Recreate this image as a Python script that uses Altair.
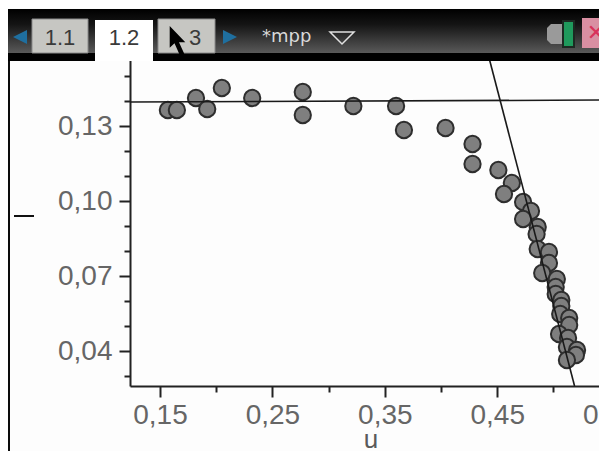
import altair as alt
import pandas as pd

# --- chart data ---
u_values = [0.157, 0.165, 0.182, 0.192, 0.205, 0.232, 0.277, 0.277, 0.322, 0.360, 0.367,
            0.404, 0.428, 0.428, 0.451, 0.463, 0.456, 0.473, 0.480, 0.473, 0.486, 0.485,
            0.486, 0.496, 0.496, 0.490, 0.503, 0.502, 0.502, 0.507, 0.507, 0.506, 0.514,
            0.514, 0.505, 0.513, 0.512, 0.521, 0.520, 0.512]
v_values = [0.1364, 0.1364, 0.1412, 0.1368, 0.1452, 0.1412, 0.1436, 0.1344, 0.1380, 0.1380, 0.1284,
            0.1292, 0.1228, 0.1148, 0.1124, 0.1072, 0.1028, 0.0996, 0.0960, 0.0928, 0.0896, 0.0868,
            0.0808, 0.0796, 0.0752, 0.0712, 0.0688, 0.0656, 0.0628, 0.0604, 0.0580, 0.0548, 0.0532,
            0.0504, 0.0468, 0.0452, 0.0416, 0.0404, 0.0384, 0.0364]
line1_u = [0.1233, 0.5512]
line1_v = [0.1396, 0.1404]
line2_u = [0.4432, 0.5188]
line2_v = [0.1564, 0.0260]

x_ticks = [0.15, 0.20, 0.25, 0.30, 0.35, 0.40, 0.45, 0.50, 0.55]
y_ticks = [0.03, 0.04, 0.05, 0.06, 0.07, 0.08, 0.09, 0.10, 0.11, 0.12, 0.13, 0.14, 0.15]
x_domain = [0.1233, 0.5512]
y_domain = [0.026, 0.1564]

tab_labels = ["1.1", "1.2", "3"]
doc_title = "*mpp"
x_title = "u"

# --- page furniture (screen positions) ---
LEFT, TOP, W, H = 122, 52, 481, 326
one = pd.DataFrame({"a": [0]})


def sx(v):
    return v - 8 - LEFT


def sy(v):
    return v - 8 - TOP


def rect(x0, x1, y0, y1, color, **kw):
    return alt.Chart(one).mark_rect(color=color, **kw).encode(
        x=alt.value(sx(x0)), x2=alt.value(sx(x1)), y=alt.value(sy(y0)), y2=alt.value(sy(y1)))


def text(t, x, y, size, color, font="Liberation Sans", align="center"):
    return alt.Chart(one).mark_text(text=t, fontSize=size, color=color, font=font, align=align,
                                    baseline="middle").encode(x=alt.value(sx(x)), y=alt.value(sy(y)))


def shape(path, x, y, size, fill=None, stroke=None, sw=1):
    kw = {"shape": path, "size": size, "filled": fill is not None, "opacity": 1}
    if fill is not None:
        kw["fill"] = fill
    kw["stroke"] = stroke if stroke is not None else "transparent"
    kw["strokeWidth"] = sw
    return alt.Chart(one).mark_point(**kw).encode(x=alt.value(sx(x)), y=alt.value(sy(y)))


band = alt.Gradient(gradient="linear", x1=0, x2=0, y1=0, y2=1, stops=[
    alt.GradientStop(offset=0, color="#000000"),
    alt.GradientStop(offset=0.35, color="#151515"),
    alt.GradientStop(offset=1, color="#5c5c5c")])

TAB_GREY = "#c6c6c2"
chrome = [
    rect(8, 10, 9, 459, "#0c0c0c"),
    rect(8, 612, 9, 54, band),
    rect(8, 612, 53, 61, "#000000"),
    rect(32, 88, 19, 53, TAB_GREY, stroke="#8a8a8a", strokeWidth=1),
    rect(95, 153, 20, 61, "#ffffff"),
    rect(158, 215, 19, 53, TAB_GREY, stroke="#8a8a8a", strokeWidth=1),
    text(tab_labels[0], 60, 38, 22, "#3a3a3a"),
    text(tab_labels[1], 124, 38, 22, "#3a3a3a"),
    text(tab_labels[2], 195, 38, 22, "#3a3a3a"),
    shape("M1,-1 L1,1 L-1,0 Z", 20, 37, 196, fill="#1f6f9f"),
    shape("M-1,-1 L-1,1 L1,0 Z", 230, 37, 196, fill="#1f6f9f"),
    text(doc_title, 262, 37, 18, "#d8d8d8", font="DejaVu Sans", align="left"),
    shape("M-1,-0.5 L1,-0.5 L0,0.5 Z", 342, 38, 576, stroke="#e0e0e0", sw=1.5),
    shape("M-0.42,-1 L-0.42,0.45 L-0.1,0.15 L0.28,1 L0.55,0.85 L0.2,0.08 L0.62,0.08 Z",
          176, 41, 900, fill="#000000"),
    shape("M-1,-0.6 L-0.6,-1 L0.6,-1 L1,-0.6 L1,0.6 L0.6,1 L-0.6,1 L-1,0.6 Z", 557, 34, 400, fill="#9a9a9a"),
    rect(563, 574, 21, 47, "#1f9a5c", stroke="#1c2a22", strokeWidth=2),
    rect(582, 612, 18, 48, "#d98fa2"),
    text("✕", 596, 33, 22, "#d8325a", font="DejaVu Sans"),
    rect(14, 34, 215, 217, "#111111"),
]

# --- data layers ---
points_df = pd.DataFrame({"u": u_values, "v": v_values})

x_enc = alt.X("u:Q", scale=alt.Scale(domain=x_domain, nice=False, zero=False), axis=alt.Axis(
    values=x_ticks, tickCount=50, title=x_title, titleFontSize=26, titleFont="Liberation Sans", titleFontWeight="normal",
    titleColor="#5a5a5a", titlePadding=-3, labelFont="Liberation Sans", labelFontSize=28, labelColor="#666666",
    labelPadding=4, labelOverlap=False, labelFlush=False, labelBound=False, grid=False, domainColor="#222222", domainWidth=2,
    tickColor="#222222", tickWidth=2,
    tickSize={"expr": "round(datum.value*100)%10==0 ? 6 : 11"},
    labelExpr="round(datum.value*100)%10==0 ? '' : replace(format(datum.value,'.2f'),'.',',')"))
y_enc = alt.Y("v:Q", scale=alt.Scale(domain=y_domain, nice=False, zero=False), axis=alt.Axis(
    values=y_ticks, tickCount=50, title=None, labelFont="Liberation Sans", labelFontSize=28, labelColor="#666666",
    labelPadding=7, labelOverlap=False, labelFlush=False, labelBound=False, grid=False, domainColor="#222222", domainWidth=2,
    tickColor="#222222", tickWidth=2,
    tickSize={"expr": "round(datum.value*100)%3==1 ? 11 : 6"},
    labelExpr="round(datum.value*100)%3==1 ? replace(format(datum.value,'.2f'),'.',',') : ''"))

points = alt.Chart(points_df).mark_point(filled=True, size=265, fill="#7f7f7f", stroke="#2e2e2e",
                                         strokeWidth=2, opacity=1).encode(x=x_enc, y=y_enc)
line1 = alt.Chart(pd.DataFrame({"u": line1_u, "v": line1_v})).mark_line(color="#1a1a1a", strokeWidth=1.6).encode(
    x="u:Q", y="v:Q")
line2 = alt.Chart(pd.DataFrame({"u": line2_u, "v": line2_v})).mark_line(color="#1a1a1a", strokeWidth=1.6).encode(
    x="u:Q", y="v:Q")

chart = alt.layer(points, line1, line2, *chrome).properties(
    width=W, height=H,
    autosize=alt.AutoSizeParams(type="none"),
    padding={"left": LEFT, "top": TOP, "right": -12, "bottom": 65},
    background="#fdfdfd",
).configure_view(stroke=None)

chart.save("out.html", embed_options={"renderer": "svg", "actions": False})
